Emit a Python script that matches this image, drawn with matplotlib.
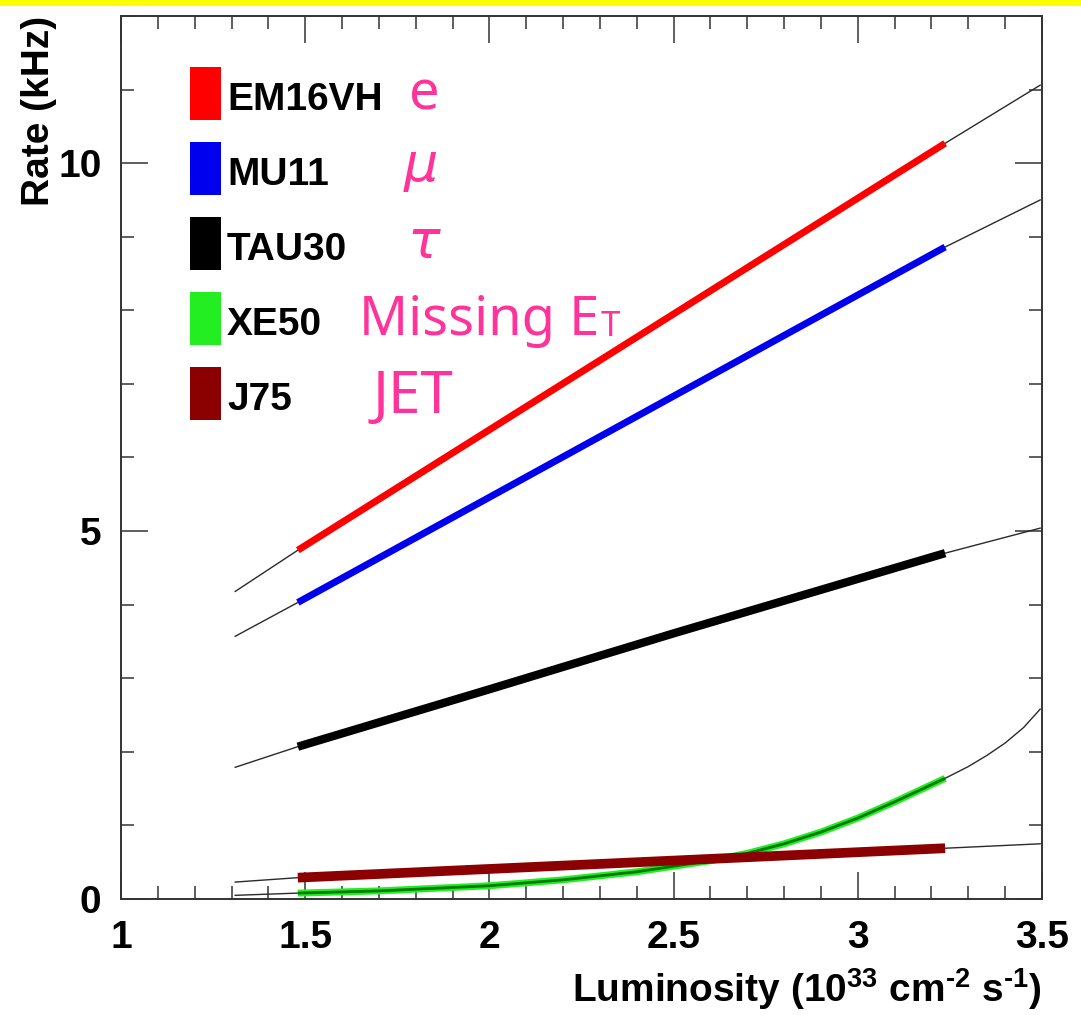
import matplotlib
matplotlib.use('Agg')
import matplotlib.pyplot as plt
from matplotlib.patches import Rectangle
from matplotlib.ticker import MultipleLocator

# ---------------- data ----------------
triggers = ["EM16VH", "MU11", "TAU30", "XE50", "J75"]
physics = ["e", "μ", "τ", "Missing E", "JET"]
colors = ["#ff0000", "#0000ee", "#000000", "#22ee22", "#8b0000"]

# measured rates (thick bands)
em_x = [1.48, 3.237]
em_y = [4.74, 10.27]
mu_x = [1.48, 3.237]
mu_y = [4.03, 8.86]
tau_x = [1.48, 2.0, 2.5, 3.0, 3.237]
tau_y = [2.07, 2.85, 3.61, 4.35, 4.70]
xe_x = [1.48, 1.7, 2.0, 2.2, 2.4, 2.6, 2.7, 2.8, 2.9, 3.0, 3.1, 3.237]
xe_y = [0.08, 0.11, 0.18, 0.26, 0.37, 0.52, 0.62, 0.75, 0.91, 1.10, 1.32, 1.64]
j_x = [1.48, 3.237]
j_y = [0.29, 0.69]

# fitted extrapolations (thin lines): low-side and high-side pieces
em_lo_x, em_lo_y = [1.31, 1.48], [4.18, 4.74]
em_hi_x, em_hi_y = [3.237, 3.495], [10.27, 11.06]
mu_lo_x, mu_lo_y = [1.31, 1.48], [3.57, 4.03]
mu_hi_x, mu_hi_y = [3.237, 3.495], [8.86, 9.50]
tau_lo_x, tau_lo_y = [1.31, 1.48], [1.79, 2.07]
tau_hi_x, tau_hi_y = [3.237, 3.495], [4.70, 5.04]
xe_lo_x, xe_lo_y = [1.31, 1.48], [0.05, 0.08]
xe_hi_x = [3.237, 3.3, 3.35, 3.4, 3.45, 3.495]
xe_hi_y = [1.64, 1.80, 1.95, 2.12, 2.33, 2.58]
j_lo_x, j_lo_y = [1.31, 1.48], [0.23, 0.29]
j_hi_x, j_hi_y = [3.237, 3.495], [0.69, 0.75]

x_ticks = [1, 1.5, 2, 2.5, 3, 3.5]
x_ticklabels = ["1", "1.5", "2", "2.5", "3", "3.5"]
y_ticks = [0, 5, 10]
y_ticklabels = ["0", "5", "10"]

# ---------------- style ----------------
plt.rcParams['font.family'] = ['Liberation Sans', 'DejaVu Sans']
plt.rcParams['font.weight'] = 'bold'
plt.rcParams['mathtext.default'] = 'regular'

W, H = 1081, 1015
fig = plt.figure(figsize=(W / 100, H / 100), dpi=100)
fig.patch.set_facecolor('white')
ax = fig.add_axes([121 / W, 1 - 899 / H, (1042 - 121) / W, (899 - 16) / H])

ax.set_xlim(1, 3.5)
ax.set_ylim(0, 12)

fit_kw = dict(color='#2a2a2a', lw=1.0, zorder=2)
for xs, ys in [(em_lo_x, em_lo_y), (em_hi_x, em_hi_y),
               (mu_lo_x, mu_lo_y), (mu_hi_x, mu_hi_y),
               (tau_lo_x, tau_lo_y), (tau_hi_x, tau_hi_y),
               (xe_lo_x, xe_lo_y), (xe_hi_x, xe_hi_y),
               (j_lo_x, j_lo_y), (j_hi_x, j_hi_y)]:
    ax.plot(xs, ys, **fit_kw)

ax.plot(em_x, em_y, color=colors[0], lw=5.0, solid_capstyle='butt', zorder=3)
ax.plot(mu_x, mu_y, color=colors[1], lw=5.0, solid_capstyle='butt', zorder=3)
ax.plot(tau_x, tau_y, color=colors[2], lw=6.0, solid_capstyle='butt', zorder=3)
ax.plot(xe_x, xe_y, color=colors[3], lw=5.0, solid_capstyle='butt', zorder=3,
        solid_joinstyle='round')
ax.plot(xe_x, xe_y, color='#007a00', lw=2.0, solid_capstyle='butt', zorder=3,
        solid_joinstyle='round')
ax.plot(j_x, j_y, color=colors[4], lw=7.0, solid_capstyle='butt', zorder=4)

ax.xaxis.set_minor_locator(MultipleLocator(0.1))
ax.yaxis.set_minor_locator(MultipleLocator(1))
ax.set_xticks(x_ticks)
ax.set_xticklabels(x_ticklabels)
ax.set_yticks(y_ticks)
ax.set_yticklabels(y_ticklabels)
ax.tick_params(which='both', direction='in', top=True, right=True,
               width=1.1, color='#333333', labelsize=28)
ax.tick_params(which='major', length=19.5)
ax.tick_params(which='minor', length=9.5)
ax.tick_params(axis='x', pad=15)
ax.tick_params(axis='y', pad=14)
for s in ax.spines.values():
    s.set_linewidth(1.4)
    s.set_color('#333333')

ax.set_xlabel("Luminosity (10$^{33}$ cm$^{\u2010 2}$ s$^{\u2010 1}$)", fontsize=28,
              fontweight='bold', loc='right')
ax.xaxis.set_label_coords(1.0, -0.076)
ax.set_ylabel("Rate (kHz)", fontsize=28, fontweight='bold', loc='top')
ax.yaxis.set_label_coords(-0.069, 1.0)

# legend boxes and labels (figure pixel coordinates)
def fx(px):
    return px / W

def fy(py):
    return 1 - py / H

box_centers = [93.5, 168.5, 243.5, 318.5, 393.5]
for i, (lab, col) in enumerate(zip(triggers, colors)):
    c = box_centers[i]
    fig.patches.append(Rectangle((fx(190), fy(c + 26.5)), 31 / W, 53 / H,
                                 transform=fig.transFigure, facecolor=col,
                                 edgecolor='none', zorder=5))
    fig.text(fx(227), fy(c + 16.5), lab, fontsize=28, fontweight='bold',
             color='black', ha='left', va='baseline', zorder=6)

pink = '#ff3399'
phys_pos = [(409, 110), (404, 181), (407, 258), (359, 335), (373, 413)]
phys_size = [39, 39, 39, 39, 42]
texts = []
for lab, (px, py), sz in zip(physics, phys_pos, phys_size):
    if lab in ("μ", "τ"):
        t = fig.text(fx(px), fy(py), lab, fontsize=sz, color=pink,
                     family='DejaVu Sans', style='italic', fontweight='normal',
                     ha='left', va='baseline')
    else:
        t = fig.text(fx(px), fy(py), lab, fontsize=sz, color=pink,
                     family='Noto Sans', fontweight='normal',
                     ha='left', va='baseline')
    texts.append(t)

# small "T" right after "Missing E"
fig.canvas.draw()
bb = texts[3].get_window_extent()
fig.text(bb.x1 / W + 1 / W, fy(336), "T", fontsize=25, color=pink,
         family='Noto Sans', fontweight='normal', ha='left', va='baseline')

# yellow band on top
fig.patches.append(Rectangle((0, fy(6)), 1, 6 / H, transform=fig.transFigure,
                             facecolor='#ffff00', edgecolor='none', zorder=10))

fig.savefig('out.png', dpi=100)
